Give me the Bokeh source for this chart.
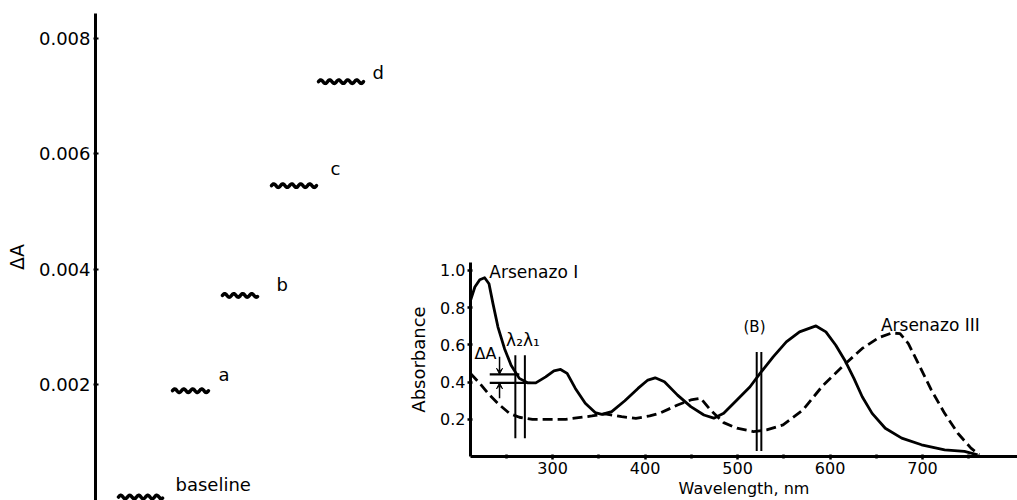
import numpy as np
from bokeh.plotting import figure
from bokeh.layouts import row, column
from bokeh.models import Spacer, FixedTicker, Label, Arrow, VeeHead, ColumnDataSource
from bokeh.embed import file_html
from bokeh.resources import INLINE
from bokeh.core.properties import value

# ---------------- Left panel data (step recording) ----------------
trace_names = ["baseline", "a", "b", "c", "d"]
trace_levels = [0.00006, 0.0019, 0.00355, 0.00545, 0.00725]
trace_start = [23, 77, 127, 176, 223]     # time, arbitrary units
trace_end = [67, 113, 162, 221, 268]
left_ticks = [0.002, 0.004, 0.006, 0.008]
left_tick_labels = ["0.002", "0.004", "0.006", "0.008"]

# ---------------- Right panel data (absorption spectra) ----------------
wl_arsenazo1 = [211.2, 215.9, 221.2, 226.5, 231.2, 235.5, 240.9, 247.9, 255.1, 264, 272.9,
                281.8, 292.5, 301.4, 308.6, 315.7, 324.6, 335.3, 346, 353.2, 363.9, 378.1,
                392.3, 403, 410.9, 420.9, 435.1, 449.4, 463.6, 474.3, 485, 499.3, 513.5,
                524.3, 538.5, 552.7, 567, 584.8, 595.5, 606.2, 616.9, 625.8, 634.8, 645.5,
                659.7, 677.5, 698.9, 723.9, 745.3, 759.6]
abs_arsenazo1 = [0.839, 0.911, 0.950, 0.961, 0.929, 0.822, 0.696, 0.581, 0.491, 0.420, 0.396,
                 0.396, 0.428, 0.461, 0.468, 0.447, 0.366, 0.286, 0.236, 0.227, 0.241, 0.300,
                 0.366, 0.411, 0.423, 0.402, 0.330, 0.268, 0.223, 0.206, 0.232, 0.304, 0.375,
                 0.447, 0.536, 0.616, 0.670, 0.702, 0.670, 0.598, 0.509, 0.420, 0.321, 0.232,
                 0.152, 0.099, 0.063, 0.036, 0.027, 0.009]
wl_arsenazo3 = [211.2, 221.2, 231.9, 242.6, 253.3, 264, 278.2, 314, 342.5, 356.8, 374.6,
                390, 405, 417, 435.1, 449.4, 460.1, 470.8, 485, 499.3, 517.1, 531.4,
                549.2, 570.6, 592, 616.9, 634.8, 652.6, 666.8, 675.7, 684.7, 695.4, 709.6,
                723.9, 738.2, 752.4, 761.3]
abs_arsenazo3 = [0.447, 0.393, 0.330, 0.277, 0.232, 0.211, 0.200, 0.200, 0.218, 0.229, 0.214,
                 0.205, 0.218, 0.235, 0.277, 0.304, 0.313, 0.250, 0.182, 0.152, 0.134, 0.143,
                 0.170, 0.250, 0.380, 0.500, 0.581, 0.639, 0.664, 0.661, 0.607, 0.500, 0.357,
                 0.232, 0.125, 0.045, 0.009]
right_x_ticks = [300, 400, 500, 600, 700]
right_x_tick_labels = ["300", "400", "500", "600", "700"]
right_x_minor = [250, 350, 450, 550, 650, 750]
right_y_ticks = [0.2, 0.4, 0.6, 0.8, 1.0]
right_y_tick_labels = ["0.2", "0.4", "0.6", "0.8", "1.0"]

lambda_wl = [259.7, 270.0]          # lambda2, lambda1
lambda_span = [0.098, 0.545]
b_wl = [520.7, 525.7]               # (B) double line
b_span = [0.03, 0.562]
delta_levels = [0.442, 0.396]
delta_x0 = [232, 232]
delta_x1 = [264, 276]
delta_arrow_x = 242.6
delta_arrow_from = [0.536, 0.313]

FONT = "DejaVu Sans"
INK = "black"

# ---------------- Left figure ----------------
left = figure(width=405, height=500, x_range=(0, 310), y_range=(0, 0.00843),
              output_backend="svg", toolbar_location=None, x_axis_location=None,
              min_border_left=95, min_border_right=0, min_border_top=13, min_border_bottom=0)
left.outline_line_color = None
left.grid.visible = False
ya = left.yaxis[0]
ya.ticker = FixedTicker(ticks=left_ticks, minor_ticks=[])
ya.major_label_overrides = {t: l for t, l in zip(left_ticks, left_tick_labels)}
ya.axis_line_width = 3
ya.axis_line_color = INK
ya.major_tick_in = 3
ya.major_tick_out = 2
ya.major_tick_line_width = 2
ya.major_tick_line_color = INK
ya.minor_tick_line_color = None
ya.major_label_text_font = FONT
ya.major_label_text_font_size = "18px"
ya.major_label_text_color = INK
ya.major_label_standoff = 3
ya.axis_label = "ΔA"
ya.axis_label_text_font = FONT
ya.axis_label_text_font_size = "19px"
ya.axis_label_text_font_style = "normal"
ya.axis_label_text_color = INK
ya.axis_label_standoff = 8

wig_period = 9.0
wig_amp = 0.00003
xs_all, ys_all = [], []
for x0, x1, lev in zip(trace_start, trace_end, trace_levels):
    xx = np.linspace(x0, x1, 80)
    yy = lev + wig_amp * np.sin(2 * np.pi * (xx - x0) / wig_period)
    xs_all.append(list(xx))
    ys_all.append(list(yy))
left.multi_line(xs_all, ys_all, line_color=INK, line_width=3.5, line_join="round", line_cap="round")

lab_dx = [13, 10, 19, 14, 9]
lab_dy = [-13, -16, -11, -17, -9]
lsrc = ColumnDataSource(dict(x=trace_end, y=trace_levels, t=trace_names, dx=lab_dx, dy=lab_dy))
left.text(x="x", y="y", text="t", x_offset="dx", y_offset="dy", source=lsrc,
          text_font=value(FONT), text_font_size="18px", text_baseline="alphabetic",
          text_align="left", text_color=INK)

# ---------------- Right figure ----------------
right = figure(width=612, height=245, x_range=(211.2, 802.7), y_range=(0, 1.043),
               output_backend="svg", toolbar_location=None,
               min_border_left=59, min_border_right=0, min_border_top=7, min_border_bottom=43)
right.outline_line_color = None
right.grid.visible = False

xa = right.xaxis[0]
xa.ticker = FixedTicker(ticks=right_x_ticks, minor_ticks=right_x_minor)
xa.major_label_overrides = {t: l for t, l in zip(right_x_ticks, right_x_tick_labels)}
ry = right.yaxis[0]
ry.ticker = FixedTicker(ticks=right_y_ticks, minor_ticks=[])
ry.major_label_overrides = {t: l for t, l in zip(right_y_ticks, right_y_tick_labels)}
for ax in (xa, ry):
    ax.axis_line_width = 3
    ax.axis_line_color = INK
    ax.major_tick_in = 2
    ax.major_tick_out = 3
    ax.major_tick_line_width = 2.5
    ax.major_tick_line_color = INK
    ax.minor_tick_in = 2
    ax.minor_tick_out = 2
    ax.minor_tick_line_width = 2.5
    ax.minor_tick_line_color = INK
    ax.major_label_text_font = FONT
    ax.major_label_text_font_size = "16px"
    ax.major_label_text_color = INK
    ax.major_label_standoff = 2
    ax.axis_label_text_font = FONT
    ax.axis_label_text_font_style = "normal"
    ax.axis_label_text_color = INK
    ax.axis_label_standoff = 2
xa.axis_label = "Wavelength, nm"
xa.axis_label_text_font_size = "16px"
ry.axis_label = "Absorbance"
ry.axis_label_text_font_size = "18px"
ry.axis_label_standoff = 8

right.line(wl_arsenazo1, abs_arsenazo1, line_color=INK, line_width=2.8, line_join="round")
right.line(wl_arsenazo3, abs_arsenazo3, line_color=INK, line_width=2.8, line_dash="10 5",
           line_join="round")

right.segment(x0=lambda_wl, y0=[lambda_span[0]] * 2, x1=lambda_wl, y1=[lambda_span[1]] * 2,
              line_color=INK, line_width=2)
right.segment(x0=b_wl, y0=[b_span[0]] * 2, x1=b_wl, y1=[b_span[1]] * 2,
              line_color=INK, line_width=2)
right.segment(x0=delta_x0, y0=delta_levels, x1=delta_x1, y1=delta_levels,
              line_color=INK, line_width=2.2)
for y_from, y_to in zip(delta_arrow_from, delta_levels):
    right.add_layout(Arrow(end=VeeHead(size=6, line_color=INK, fill_color=INK, line_width=1),
                           x_start=delta_arrow_x, y_start=y_from, x_end=delta_arrow_x, y_end=y_to,
                           line_color=INK, line_width=1.5))

texts = [("Arsenazo I", 231.6, 0.99, "17px"),
         ("λ₂λ₁", 249.7, 0.625, "17px"),
         ("ΔA", 215.5, 0.555, "16px"),
         ("(B)", 506.4, 0.695, "15px"),
         ("Arsenazo III", 655.0, 0.705, "17px")]
for t, x, y, fs in texts:
    right.add_layout(Label(x=x, y=y, text=t, text_font=FONT, text_font_size=fs,
                           text_baseline="alphabetic", text_align="left", text_color=INK))

layout = row(left, column(Spacer(width=612, height=255), right))
open("out.html", "w").write(file_html(layout, INLINE))
